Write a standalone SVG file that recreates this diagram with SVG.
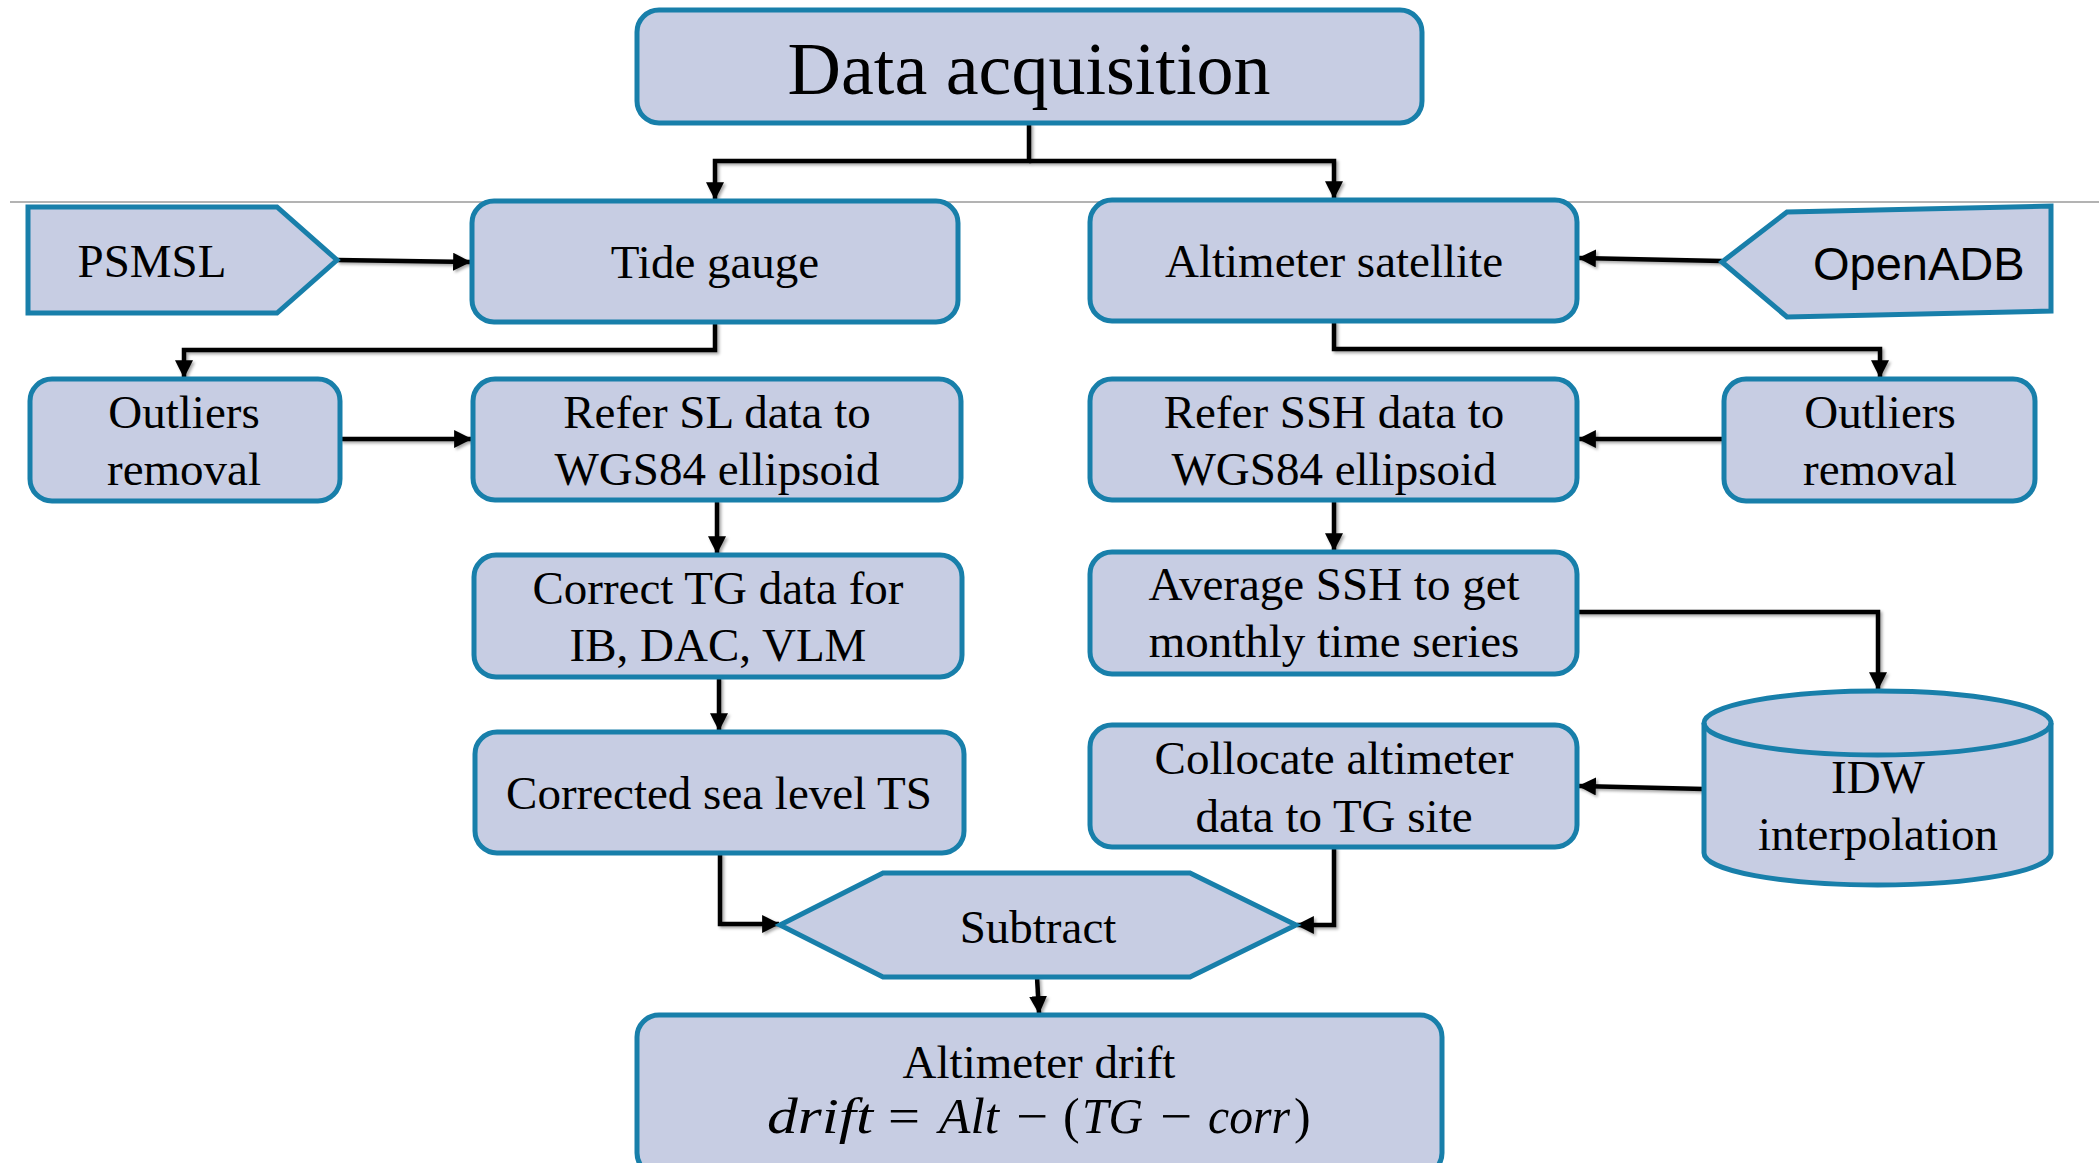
<svg xmlns="http://www.w3.org/2000/svg" width="2099" height="1163" viewBox="0 0 2099 1163">
<defs>
<style>
.box{fill:#C7CDE3;stroke:#187FAA;stroke-width:5}
.t{font-family:"Liberation Serif","Times New Roman",serif;font-size:47px;fill:#000;text-anchor:middle}
.s{font-family:"Liberation Sans",Arial,sans-serif;font-size:47px;fill:#000}
.m{font-family:"Liberation Serif","Times New Roman",serif;font-size:50px;font-style:italic;fill:#000}
.mo{font-family:"Liberation Serif","Times New Roman",serif;font-size:50px;fill:#000}
.c{fill:none;stroke:#000;stroke-width:4.5;marker-end:url(#ah)}
</style>
<marker id="ah" markerUnits="userSpaceOnUse" markerWidth="18" markerHeight="18" viewBox="0 0 16 16" refX="15" refY="8" orient="auto">
<path d="M0,0 L16,8 L0,16 Z" fill="#000"/>
</marker>
<filter id="sh" x="-5%" y="-5%" width="110%" height="110%">
<feDropShadow dx="2" dy="2" stdDeviation="1.5" flood-color="#000" flood-opacity="0.35"/>
</filter>
</defs>
<rect width="2099" height="1163" fill="#fff"/>
<line x1="10" y1="202" x2="2099" y2="202" stroke="#9a9a9a" stroke-width="1.5"/>

<g id="connectors" filter="url(#sh)">
<path class="c" d="M1029,123 V161 H715 V199"/>
<path class="c" d="M1029,161 H1334 V198"/>
<path class="c" d="M337,260 L470,262"/>
<path class="c" d="M1722,261 L1579,258"/>
<path class="c" d="M715,322 V350 H184 V377"/>
<path class="c" d="M1334,321 V349 H1880 V377"/>
<path class="c" d="M340,439 H471"/>
<path class="c" d="M1724,439 H1579"/>
<path class="c" d="M717,500 V553"/>
<path class="c" d="M1334,500 V550"/>
<path class="c" d="M719,677 V730"/>
<path class="c" d="M1577,612 H1878 V689"/>
<path class="c" d="M1704,789 L1579,786"/>
<path class="c" d="M720,853 V924 H779"/>
<path class="c" d="M1334,847 V925 H1297"/>
<path class="c" d="M1037,977 L1039,1013"/>
</g>

<g id="data-acquisition">
<rect class="box" x="637" y="10" width="785" height="113" rx="22"/>
<text class="t" x="1029" y="94" style="font-size:74px">Data acquisition</text>
</g>
<g id="psmsl">
<polygon class="box" points="28,207 277,207 337,260 277,313 28,313"/>
<text class="t" x="152" y="277">PSMSL</text>
</g>
<g id="tide-gauge">
<rect class="box" x="472" y="201" width="486" height="121" rx="22"/>
<text class="t" x="715" y="278">Tide gauge</text>
</g>
<g id="altimeter-satellite">
<rect class="box" x="1090" y="200" width="487" height="121" rx="22"/>
<text class="t" x="1334" y="277">Altimeter satellite</text>
</g>
<g id="openadb">
<polygon class="box" points="1722,262 1787,212 2051,206 2051,311 1787,317"/>
<text class="s" x="1813" y="280">OpenADB</text>
</g>
<g id="outliers-left">
<rect class="box" x="30" y="379" width="310" height="122" rx="22"/>
<text class="t" x="184" y="428">Outliers</text>
<text class="t" x="184" y="485">removal</text>
</g>
<g id="refer-sl">
<rect class="box" x="473" y="379" width="488" height="121" rx="22"/>
<text class="t" x="717" y="428">Refer SL data to</text>
<text class="t" x="717" y="485">WGS84 ellipsoid</text>
</g>
<g id="refer-ssh">
<rect class="box" x="1090" y="379" width="487" height="121" rx="22"/>
<text class="t" x="1334" y="428">Refer SSH data to</text>
<text class="t" x="1334" y="485">WGS84 ellipsoid</text>
</g>
<g id="outliers-right">
<rect class="box" x="1724" y="379" width="311" height="122" rx="22"/>
<text class="t" x="1880" y="428">Outliers</text>
<text class="t" x="1880" y="485">removal</text>
</g>
<g id="correct-tg">
<rect class="box" x="474" y="555" width="488" height="122" rx="22"/>
<text class="t" x="718" y="604">Correct TG data for</text>
<text class="t" x="718" y="661">IB, DAC, VLM</text>
</g>
<g id="average-ssh">
<rect class="box" x="1090" y="552" width="487" height="122" rx="22"/>
<text class="t" x="1334" y="600">Average SSH to get</text>
<text class="t" x="1334" y="657">monthly time series</text>
</g>
<g id="corrected-ts">
<rect class="box" x="475" y="732" width="489" height="121" rx="22"/>
<text class="t" x="719" y="809">Corrected sea level TS</text>
</g>
<g id="collocate">
<rect class="box" x="1090" y="725" width="487" height="122" rx="22"/>
<text class="t" x="1334" y="774">Collocate altimeter</text>
<text class="t" x="1334" y="832">data to TG site</text>
</g>
<g id="idw">
<path class="box" d="M1704,723 V853 A173.5,32 0 0 0 2051,853 V723 A173.5,32 0 0 0 1704,723 Z"/>
<path d="M1704,723 A173.5,32 0 0 0 2051,723" fill="none" stroke="#187FAA" stroke-width="5"/>
<text class="t" x="1878" y="793">IDW</text>
<text class="t" x="1878" y="850">interpolation</text>
</g>
<g id="subtract">
<polygon class="box" points="780,925 883,873 1190,873 1296,925 1190,977 883,977"/>
<text class="t" x="1038" y="943">Subtract</text>
</g>
<g id="altimeter-drift">
<rect class="box" x="637" y="1015" width="805" height="160" rx="22"/>
<text class="t" x="1039" y="1078">Altimeter drift</text>
<text y="1133"><tspan class="m" x="767" textLength="106" lengthAdjust="spacingAndGlyphs">drift</tspan><tspan class="mo" x="888" textLength="32" lengthAdjust="spacingAndGlyphs">=</tspan><tspan class="m" x="939" textLength="60" lengthAdjust="spacingAndGlyphs">Alt</tspan><tspan class="mo" x="1016" textLength="32" lengthAdjust="spacingAndGlyphs">−</tspan><tspan class="mo" x="1063">(</tspan><tspan class="m" x="1082" textLength="61" lengthAdjust="spacingAndGlyphs">TG</tspan><tspan class="mo" x="1160" textLength="32" lengthAdjust="spacingAndGlyphs">−</tspan><tspan class="m" x="1208" textLength="82" lengthAdjust="spacingAndGlyphs">corr</tspan><tspan class="mo" x="1294">)</tspan></text>
</g>
</svg>
